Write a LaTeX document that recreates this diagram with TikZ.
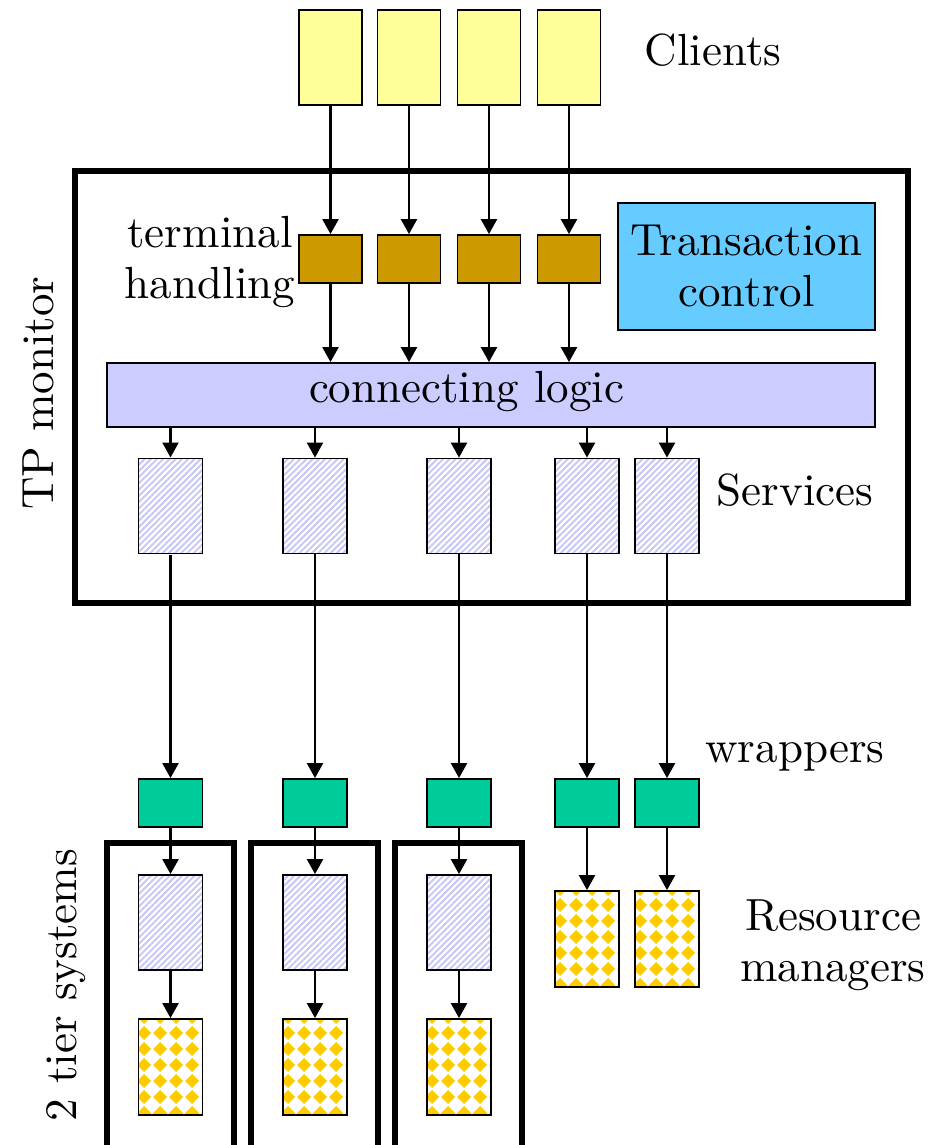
\documentclass[tikz,border=0pt]{standalone}
\usepackage{fontspec}
\setmainfont{lmroman10-regular.otf}
\usetikzlibrary{arrows.meta,patterns.meta}
\definecolor{clientc}{HTML}{FFFF99}
\definecolor{termc}{HTML}{CC9900}
\definecolor{transc}{HTML}{66CCFF}
\definecolor{barc}{HTML}{CCCCFF}
\definecolor{wrapc}{HTML}{00CC99}
\definecolor{rmyellow}{HTML}{FFCC00}
\definecolor{hatchc}{HTML}{C8C8F6}
\tikzdeclarepattern{
  name=diamondgrid,
  type=colored,
  bounding box={(-8pt,-8pt) and (8pt,8pt)},
  tile size={(16pt,16pt)},
  code={\fill[rmyellow] (0pt,-7pt) -- (7pt,0pt) -- (0pt,7pt) -- (-7pt,0pt) -- cycle;}
}
\tikzset{
  box/.style={draw=black, line width=1.8pt, inner sep=0pt, rectangle},
  client/.style={box, fill=clientc, minimum width=63pt, minimum height=95pt},
  term/.style={box, fill=termc, minimum width=63pt, minimum height=48pt},
  svc/.style={box, fill=white, pattern={Lines[angle=45, distance=4.4pt, line width=2pt]}, pattern color=hatchc, minimum width=64pt, minimum height=95pt},
  wrap/.style={box, fill=wrapc, minimum width=64pt, minimum height=48pt},
  rm/.style={box, fill=white, pattern=diamondgrid, minimum width=64pt, minimum height=96pt},
  frame/.style={draw=black, line width=6pt, inner sep=0pt, rectangle},
  lbl/.style={inner sep=0pt, align=center, font=\fontsize{45}{51}\selectfont},
  arr/.style={line width=2.2pt, -{Triangle[length=15pt, width=16pt]}},
}
\begin{document}
\begin{tikzpicture}[x=1pt, y=-1pt]
\useasboundingbox (0,0) rectangle (928,1145);

% TP monitor frame
\node[frame, minimum width=833pt, minimum height=432pt] (tpm) at (491.5,387) {};
\node[lbl, rotate=90] (tplabel) at (38,393) {TP monitor};

% Clients and terminal handling
\foreach \i/\x in {1/330.5, 2/409, 3/489, 4/569} {
  \node[client] (c\i) at (\x,57.5) {};
  \node[term] (t\i) at (\x,259) {};
}
\node[lbl] (clientslbl) at (713,50) {Clients};
\node[lbl] (termlbl) at (210,262) {terminal\\handling};

% Transaction control
\node[box, fill=transc, minimum width=257pt, minimum height=127pt, lbl] (trans) at (746.5,266.5) {Transaction\\control};

% connecting logic
\node[box, fill=barc, minimum width=768pt, minimum height=64pt] (bar) at (491,395) {};
\node[lbl] (barlbl) at (466.5,392) {connecting logic};

% Services and wrappers
\foreach \i/\x in {1/170.5, 2/315, 3/459, 4/587, 5/667} {
  \node[svc] (s\i) at (\x,506) {};
  \node[wrap] (w\i) at (\x,803) {};
}
\node[lbl] (svclbl) at (795,490) {Services};
\node[lbl] (wraplbl) at (795,757) {wrappers};

% 2 tier systems
\foreach \i/\x/\fx in {1/170.5/170.5, 2/315/314, 3/459/458} {
  \node[frame, minimum width=127pt, minimum height=310pt] (f\i) at (\fx,998) {};
  \node[svc] (ts\i) at (\x,922.5) {};
  \node[rm] (tr\i) at (\x,1067) {};
}
\node[lbl, rotate=90] (tierlbl) at (66,985) {2 tier systems};

% Resource managers
\node[rm] (r4) at (587,939) {};
\node[rm] (r5) at (667,939) {};
\node[lbl] (rmlbl) at (833,945) {Resource\\managers};

% Connectors
\foreach \i in {1,2,3,4} {
  \draw[arr] (c\i.south) -- (t\i.north);
  \draw[arr] (t\i.south) -- (bar.north -| t\i.south);
}
\foreach \i in {1,2,3,4,5} {
  \draw[arr] (bar.south -| s\i.north) -- (s\i.north);
  \draw[arr] (s\i.south) -- (w\i.north);
}
\foreach \i in {1,2,3} {
  \draw[arr] (w\i.south) -- (ts\i.north);
  \draw[arr] (ts\i.south) -- (tr\i.north);
}
\draw[arr] (w4.south) -- (r4.north);
\draw[arr] (w5.south) -- (r5.north);
\end{tikzpicture}
\end{document}
